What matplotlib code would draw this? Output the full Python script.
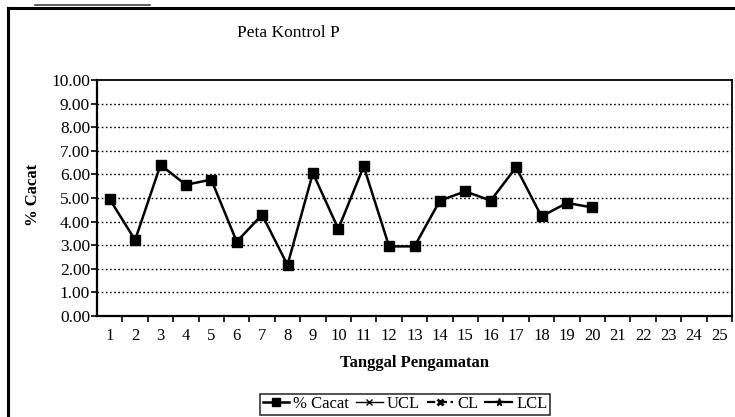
import matplotlib
matplotlib.use("Agg")
import matplotlib.pyplot as plt
from matplotlib.lines import Line2D

days = list(range(1, 26))
cacat_days = list(range(1, 21))
cacat = [4.95, 3.22, 6.40, 5.56, 5.78, 3.15, 4.29, 2.16, 6.06, 3.69,
         6.34, 2.95, 2.95, 4.89, 5.28, 4.89, 6.30, 4.22, 4.79, 4.60]
yticks = [0, 1, 2, 3, 4, 5, 6, 7, 8, 9, 10]
ytick_labels = ["%.2f" % v for v in yticks]
legend_labels = ["% Cacat", "UCL", "CL", "LCL"]

plt.rcParams['font.family'] = ['Liberation Serif', 'DejaVu Serif']

fig = plt.figure(figsize=(7.35, 4.17), dpi=100)
ax = fig.add_axes([97/735, (417-316)/417, (732-97)/735, (316-80)/417])

ax.plot(cacat_days, cacat, color='black', lw=1.8, marker='s', ms=7,
        markerfacecolor='black', markeredgecolor='black', label=legend_labels[0])
# empty control-limit series (legend only)
ax.plot([], [], color='black', lw=1.0, marker='x', ms=5, label=legend_labels[1])
ax.plot([], [], color='black', lw=1.6, ls='--', marker='x', ms=5, mew=2, label=legend_labels[2])
ax.plot([], [], color='black', lw=1.6, marker='*', ms=7, label=legend_labels[3])

ax.set_ylim(0, 10)
ax.set_yticks(yticks)
ax.set_yticklabels(ytick_labels, fontsize=12.5)
ax.set_xlim(0.5, 25.5)
ax.set_xticks(days)
ax.set_xticklabels([str(d) for d in days], fontsize=12)
ax.set_xticks([d + 0.5 for d in days], minor=True)
ax.tick_params(axis='x', which='major', length=0, pad=9)
ax.tick_params(axis='x', which='minor', length=4, width=1.2, direction='out')
ax.tick_params(axis='y', length=4, width=1.2, direction='out', pad=1)

for v in yticks[1:-1]:
    ax.axhline(v, color='black', lw=1.0, ls=(0, (1.2, 1.8)), zorder=0)

for s in ['left', 'bottom']:
    ax.spines[s].set_linewidth(1.6)
for s in ['top', 'right']:
    ax.spines[s].set_linewidth(1.3)

fig.text(288/735, 1 - 33/417, "Peta Kontrol P", ha='center', va='center', fontsize=12.5)
fig.text(33/735, 1 - 195/417, "% Cacat", ha='center', va='center', rotation=90,
         fontsize=12, fontweight='bold')
fig.text(415/735, 1 - 363/417, "Tanggal Pengamatan", ha='center', va='center',
         fontsize=12, fontweight='bold')

leg = fig.legend(loc='center', bbox_to_anchor=(405/735, 1 - 404/417), ncol=4,
                 frameon=True, fancybox=False, edgecolor='black', fontsize=12,
                 handlelength=1.6, handletextpad=0.25, columnspacing=0.4,
                 borderpad=0.15, borderaxespad=0, markerscale=0.8)
leg.get_frame().set_linewidth(1.2)

# outer figure frame
fig.add_artist(Line2D([8/735, 8/735], [0, 1 - 8/417], color='black', lw=2.2,
                      transform=fig.transFigure))
fig.add_artist(Line2D([8/735, 1], [1 - 8/417, 1 - 8/417], color='black', lw=2.2,
                      transform=fig.transFigure))
fig.add_artist(Line2D([35/735, 150/735], [1 - 5/417, 1 - 5/417], color='#444444', lw=1.2,
                      transform=fig.transFigure))

fig.savefig("out.png", dpi=100)
